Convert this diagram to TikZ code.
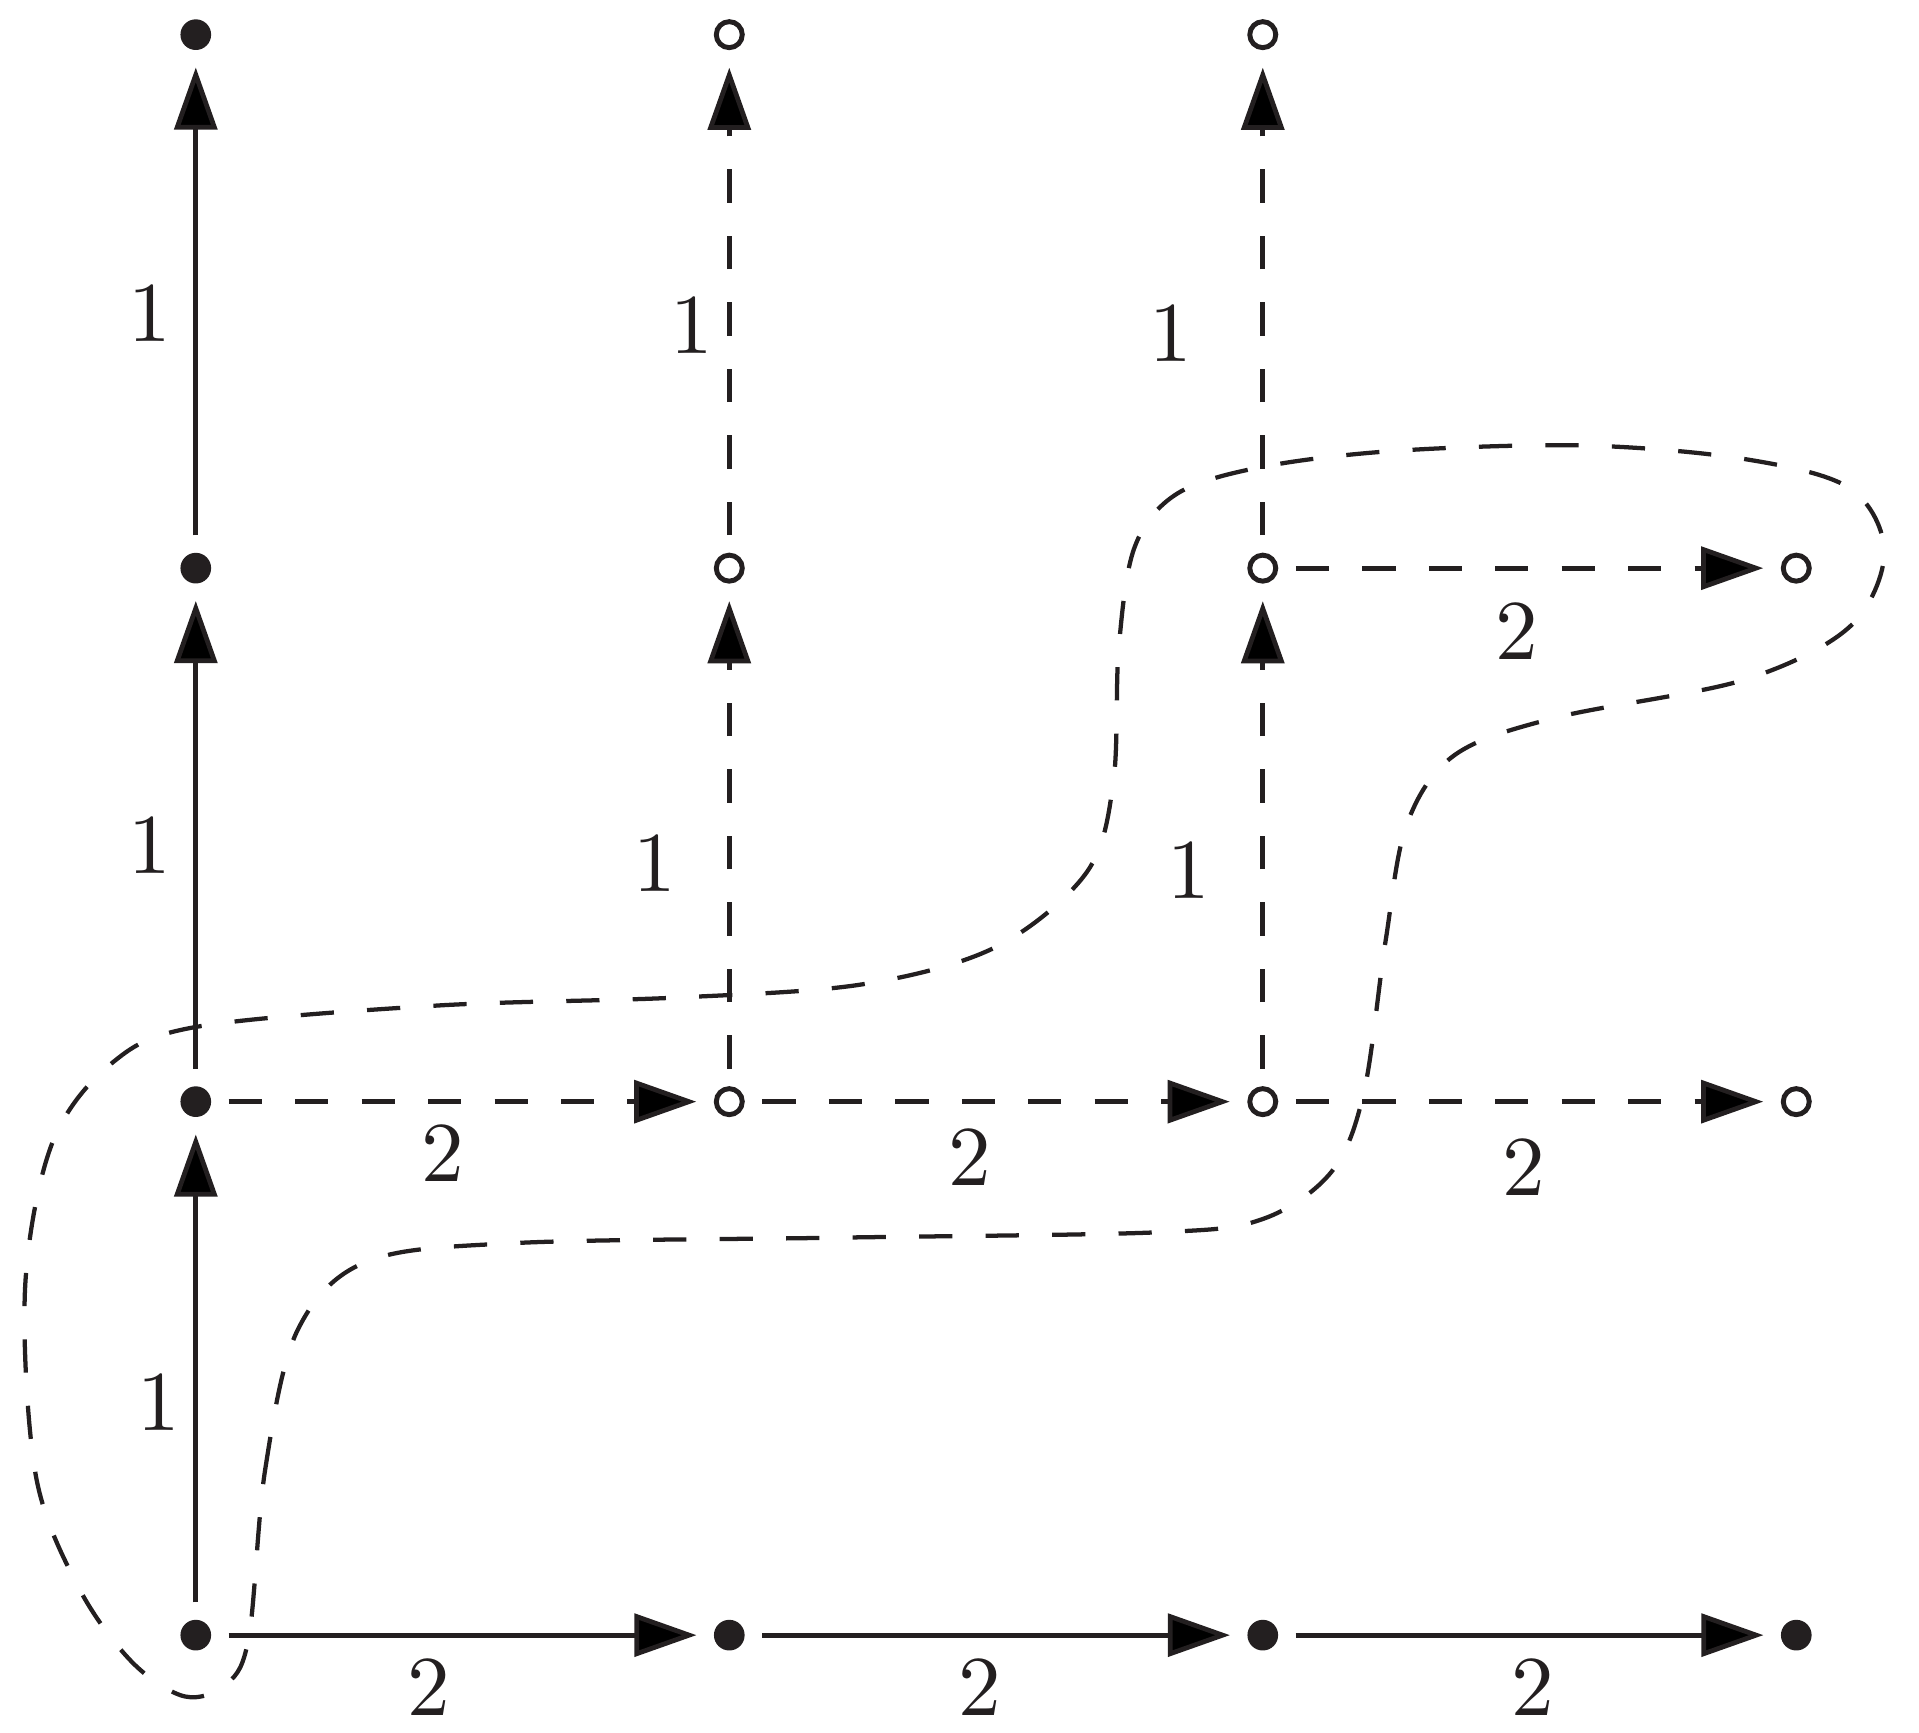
\documentclass[tikz,border=0pt]{standalone}
\usepackage{tikz}
\usetikzlibrary{arrows.meta}

\definecolor{tinte}{RGB}{35,31,32}

\begin{document}
\begin{tikzpicture}[
    x=2.2cm, y=2.2cm,
    voll/.style={
      circle,
      fill=tinte,
      inner sep=0pt,
      minimum size=3.6pt,
      outer sep=2.05pt},
    leer/.style={
      circle,
      draw=tinte,
      line width=0.58pt,
      fill=white,
      inner sep=0pt,
      minimum size=3.05pt,
      outer sep=2.35pt},
    pfeil/.style={-{Triangle[length=7.3pt,width=5pt]}, line width=0.56pt, draw=tinte},
    strich/.style={pfeil, dash pattern=on 3.9pt off 3.9pt},
    zahl/.style={text=tinte, inner sep=0pt}
    ]

  \useasboundingbox (-0.367,-0.182) rectangle (3.23,3.065);

  % untere Reihe und linke Spalte
  \node at (0,0) (p00) [voll] {};
  \node at (1,0) (p10) [voll] {};
  \node at (2,0) (p20) [voll] {};
  \node at (3,0) (p30) [voll] {};
  \node at (0,1) (p01) [voll] {};
  \node at (0,2) (p02) [voll] {};
  \node at (0,3) (p03) [voll] {};

  % offene Punkte
  \node at (1,1) (p11) [leer] {};
  \node at (2,1) (p21) [leer] {};
  \node at (3,1) (p31) [leer] {};
  \node at (1,2) (p12) [leer] {};
  \node at (2,2) (p22) [leer] {};
  \node at (3,2) (p32) [leer] {};
  \node at (1,3) (p13) [leer] {};
  \node at (2,3) (p23) [leer] {};

  \path [pfeil] (p00) edge [] (p01);
  \path [pfeil] (p01) edge [] (p02);
  \path [pfeil] (p02) edge [] (p03);
  \path [pfeil] (p00) edge [] (p10);
  \path [pfeil] (p10) edge [] (p20);
  \path [pfeil] (p20) edge [] (p30);

  \path [strich] (p01) edge [] (p11);
  \path [strich] (p11) edge [] (p21);
  \path [strich] (p21) edge [] (p31);
  \path [strich] (p11) edge [] (p12);
  \path [strich] (p12) edge [] (p13);
  \path [strich] (p21) edge [] (p22);
  \path [strich] (p22) edge [] (p23);
  \path [strich] (p22) edge [] (p32);

  % Gewichte
  \node at (-0.087,2.477) (w03) [zahl] {$1$};
  \node at (-0.087,1.479) (w02) [zahl] {$1$};
  \node at (-0.069,0.436) (w01) [zahl] {$1$};
  \node at (0.929,2.454)  (w13) [zahl] {$1$};
  \node at (0.860,1.445)  (w12) [zahl] {$1$};
  \node at (1.828,2.438)  (w23) [zahl] {$1$};
  \node at (1.862,1.433)  (w22) [zahl] {$1$};
  \node at (0.436,-0.099) (w10) [zahl] {$2$};
  \node at (1.470,-0.099) (w20) [zahl] {$2$};
  \node at (2.507,-0.099) (w30) [zahl] {$2$};
  \node at (0.463,0.901)  (w11) [zahl] {$2$};
  \node at (1.450,0.894)  (w21) [zahl] {$2$};
  \node at (2.490,0.876)  (w31) [zahl] {$2$};
  \node at (2.477,1.880)  (w32) [zahl] {$2$};

  % gestrichelte Huelle
  \draw [tinte, line width=0.5pt, dash pattern=on 3.9pt off 3.9pt]
    plot [smooth cycle, tension=0.55] coordinates {
      (0.10,0.0) (0.13,0.31) (0.19,0.57) (0.32,0.70) (0.60,0.735)
      (1.20,0.745) (1.80,0.755) (2.00,0.78) (2.13,0.87) (2.19,1.02)
      (2.23,1.30) (2.27,1.52) (2.36,1.65) (2.55,1.72) (2.90,1.79)
      (3.10,1.89) (3.165,2.03) (3.10,2.15) (2.90,2.205) (2.60,2.23)
      (2.25,2.22) (2.00,2.19) (1.84,2.14) (1.76,2.04) (1.73,1.85)
      (1.72,1.60) (1.67,1.43) (1.50,1.29) (1.25,1.22) (0.90,1.195)
      (0.45,1.18) (0.0,1.14) (-0.16,1.07) (-0.27,0.92) (-0.32,0.65)
      (-0.30,0.30) (-0.22,0.09) (-0.12,-0.05) (-0.02,-0.115) (0.06,-0.09)};

\end{tikzpicture}
\end{document}
